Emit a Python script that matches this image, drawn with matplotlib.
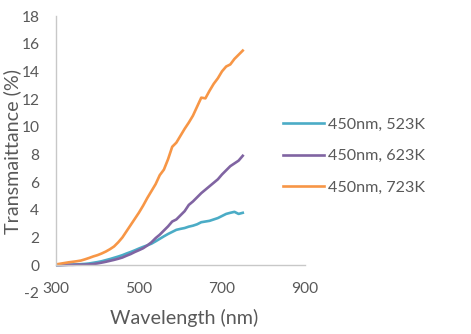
import numpy as np
import matplotlib
matplotlib.use("Agg")
import matplotlib.pyplot as plt

# data
wavelength = list(range(300, 760, 10))

t523 = [0.0, 0.01, 0.02, 0.03, 0.04, 0.05, 0.07, 0.09, 0.12, 0.17,
        0.22, 0.28, 0.36, 0.44, 0.53, 0.62, 0.72, 0.84, 0.95, 1.07,
        1.2, 1.32, 1.43, 1.55, 1.72, 1.9, 2.08, 2.25, 2.4, 2.55,
        2.62, 2.68, 2.78, 2.85, 2.95, 3.1, 3.15, 3.2, 3.3, 3.4,
        3.55, 3.7, 3.78, 3.85, 3.7, 3.78]

t623 = [0.0, 0.0, 0.01, 0.02, 0.02, 0.03, 0.03, 0.04, 0.05, 0.08,
        0.12, 0.18, 0.24, 0.31, 0.38, 0.46, 0.55, 0.68, 0.8, 0.95,
        1.08, 1.22, 1.42, 1.65, 1.95, 2.2, 2.5, 2.8, 3.15, 3.3,
        3.6, 3.9, 4.35, 4.6, 4.9, 5.2, 5.45, 5.7, 5.95, 6.2,
        6.55, 6.85, 7.15, 7.35, 7.55, 7.9]

t723 = [0.05, 0.1, 0.15, 0.2, 0.24, 0.28, 0.33, 0.42, 0.52, 0.63,
        0.72, 0.84, 0.98, 1.15, 1.35, 1.65, 2.0, 2.45, 2.9, 3.35,
        3.8, 4.3, 4.85, 5.35, 5.85, 6.5, 6.9, 7.65, 8.55, 8.85,
        9.35, 9.85, 10.3, 10.8, 11.45, 12.1, 12.05, 12.6, 13.1, 13.5,
        14.0, 14.35, 14.5, 14.9, 15.2, 15.5]

labels = ["450nm, 523K", "450nm, 623K", "450nm, 723K"]
colors = ["#4BACC6", "#8064A2", "#F79646"]

plt.rcParams['font.family'] = ['Lato', 'DejaVu Sans']
plt.rcParams['axes.unicode_minus'] = False
txt = "#595959"

fig = plt.figure(figsize=(4.71, 3.34), dpi=100)
ax = fig.add_axes([56/471, 1 - 292.8/334, (305 - 56)/471, (292.8 - 16)/334])

for y, lab, c in zip([t523, t623, t723], labels, colors):
    ax.plot(wavelength, y, color=c, lw=1.9, label=lab)

ax.set_xlim(300, 900)
ax.set_ylim(-2, 18)
ax.set_xticks([300, 500, 700, 900])
ax.set_yticks(range(-2, 19, 2))

for s in ['top', 'right']:
    ax.spines[s].set_visible(False)
ax.spines['bottom'].set_position(('data', 0))
ax.spines['left'].set_bounds(0, 18)
for s in ['bottom', 'left']:
    ax.spines[s].set_color('#C8C8C8')
    ax.spines[s].set_linewidth(1.0)

ax.tick_params(axis='x', length=0, pad=12, labelsize=11.2, colors=txt)
ax.tick_params(axis='y', length=0, pad=12, labelsize=11.2, colors=txt)

fig.text(184/471, 1 - 318/334, "Wavelength (nm)", ha='center', va='center',
         fontsize=14.2, color=txt)
fig.text(12/471, 1 - 151/334, "Transmaittance (%)", ha='center', va='center',
         rotation=90, fontsize=14.2, color=txt)

ax.legend(loc='center left', bbox_to_anchor=(283/471, 1 - 156/334),
          bbox_transform=fig.transFigure, frameon=False, fontsize=11.6,
          handlelength=2.55, handletextpad=0.25, labelspacing=1.08,
          borderpad=0, borderaxespad=0, labelcolor=txt)

fig.savefig("out.png", dpi=100)
